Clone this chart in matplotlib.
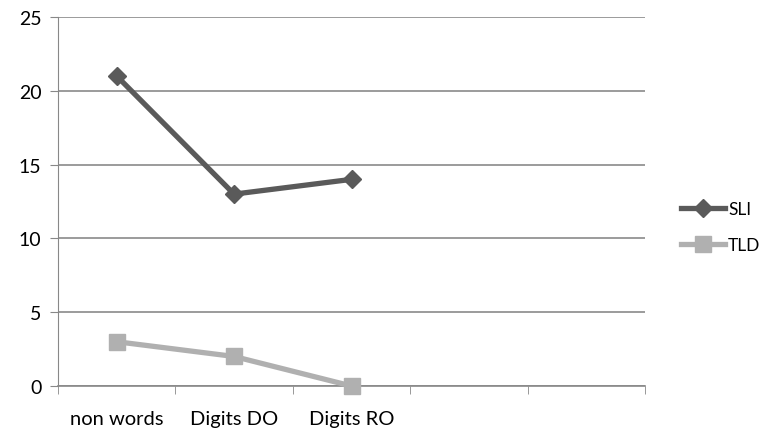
import matplotlib.pyplot as plt

plt.rcParams['font.family'] = ['Lato', 'DejaVu Sans']

categories = ['non words', 'Digits DO', 'Digits RO', '', '']
sli = [21, 13, 14]
tld = [3, 2, 0]

fig = plt.figure(figsize=(7.62, 4.35), dpi=100)
ax = fig.add_axes([58/762, 1-387/435, (645-58)/762, (387-18)/435])

x = range(len(categories))
ax.plot(x[:3], sli, color='#5a5a5a', lw=3.8, marker='D', ms=9, label='SLI', clip_on=False, zorder=3)
ax.plot(x[:3], tld, color='#b0b0b0', lw=3.8, marker='s', ms=11, label='TLD', clip_on=False, zorder=3)

ax.set_xlim(-0.5, len(categories) - 0.5)
ax.set_ylim(0, 25)
ax.set_yticks(range(0, 26, 5))
ax.set_xticks(x)
ax.set_xticklabels(categories)
ax.set_xticks([i - 0.5 for i in range(len(categories) + 1)], minor=True)
ax.tick_params(axis='x', which='major', length=0, pad=17, labelsize=14.5)
ax.tick_params(axis='x', which='minor', length=6, color='#888888', direction='out')
ax.tick_params(axis='y', length=6, color='#888888', labelsize=14, pad=6)
ax.yaxis.grid(True, color='#8a8a8a', lw=1.2)
ax.set_axisbelow(True)
for s in ['top', 'right']:
    ax.spines[s].set_visible(False)
ax.spines['left'].set_color('#888888')
ax.spines['bottom'].set_color('#888888')
ax.spines['bottom'].set_linewidth(1.2)

ax.legend(loc='center left', bbox_to_anchor=(1.035, 0.43), frameon=False, fontsize=12.5,
          handlelength=2.5, labelspacing=1.15, handletextpad=0.2)

fig.savefig('out.png', dpi=100)
